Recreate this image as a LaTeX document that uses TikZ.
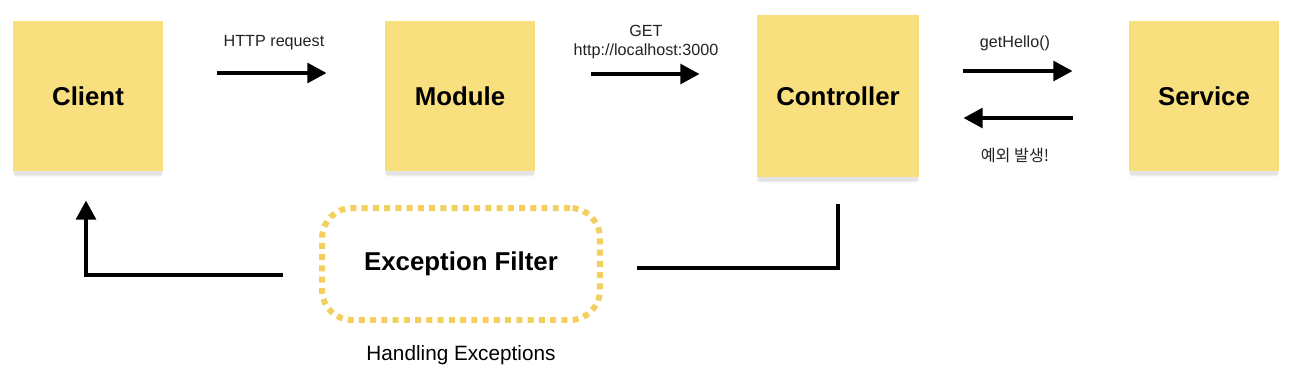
\documentclass[tikz,border=0pt]{standalone}
\usepackage{fontspec}
\setmainfont{Liberation Sans}
\newfontfamily\kofont{Noto Sans CJK KR}
\usetikzlibrary{arrows.meta,positioning,shadows}

\definecolor{stickyyellow}{HTML}{F9E07F}
\definecolor{filterdots}{HTML}{F3CF5E}
\definecolor{labelgray}{HTML}{222222}

\begin{document}
\begin{tikzpicture}[x=0.02cm, y=-0.02cm,
    note/.style={fill=stickyyellow, minimum size=3cm, inner sep=0pt,
        font=\fontsize{14.7}{17}\selectfont\bfseries,
        drop shadow={shadow xshift=0pt, shadow yshift=-5pt, shadow scale=0.97, opacity=0.06},
        drop shadow={shadow xshift=0pt, shadow yshift=-3.5pt, shadow scale=0.99, opacity=0.08},
        drop shadow={shadow xshift=0pt, shadow yshift=-2pt, opacity=0.1}},
    lbl/.style={inner sep=0pt, align=center, text=labelgray, font=\fontsize{9.2}{10.5}\selectfont},
    arr/.style={-{Triangle[length=11pt, width=11pt]}, line width=2.6pt},
    conn/.style={line width=2.8pt},
    filterbox/.style={draw=filterdots, line width=3.4pt, dash pattern=on 3.4pt off 3pt,
        rounded corners=0.6cm, minimum width=5.56cm, minimum height=2.24cm,
        font=\fontsize{14.7}{17}\selectfont\bfseries}
]
\useasboundingbox (0,0) rectangle (1302,380);

\node[note] (client) at (88,96) {Client};
\node[note] (module) at (460,96) {Module};
\node[note, minimum size=3.24cm] (controller) at (838,96) {Controller};
\node[note] (service) at (1204,96) {Service};

\draw[arr, shorten <=1.08cm, shorten >=1.16cm] ([yshift=0.46cm]client.east) -- node[lbl, above=0.42cm] {HTTP request} ([yshift=0.46cm]module.west);
\draw[arr, shorten <=1.12cm, shorten >=1.14cm] ([yshift=0.44cm]module.east) -- node[lbl, above=0.26cm] {GET\\http://localhost:3000} ([yshift=0.44cm]controller.west);
\draw[arr, shorten <=0.88cm, shorten >=1.12cm] ([yshift=0.5cm]controller.east) -- node[lbl, above=0.36cm, xshift=-0.18cm] {getHello()} ([yshift=0.5cm]service.west);
\draw[arr, shorten <=1.12cm, shorten >=0.88cm] ([yshift=-0.44cm]service.west) -- node[lbl, below=0.56cm, xshift=-0.18cm] {\kofont 예외 발생!} ([yshift=-0.44cm]controller.east);

\node[filterbox, text depth=0.1cm] (filter) at (461,264) {Exception Filter};
\node[lbl, below=0.44cm of filter, text=black, font=\fontsize{11.8}{13}\selectfont] (handling) {Handling Exceptions};

% way back to the client
\coordinate (retstart) at (283,275);
\coordinate (excend) at (637,268);
\draw[arr, line width=2.8pt, shorten >=0.58cm] (retstart) -| ([xshift=-0.04cm]client.south);
\draw[conn, shorten <=0.54cm] (controller.south) |- (excend);
\end{tikzpicture}
\end{document}
